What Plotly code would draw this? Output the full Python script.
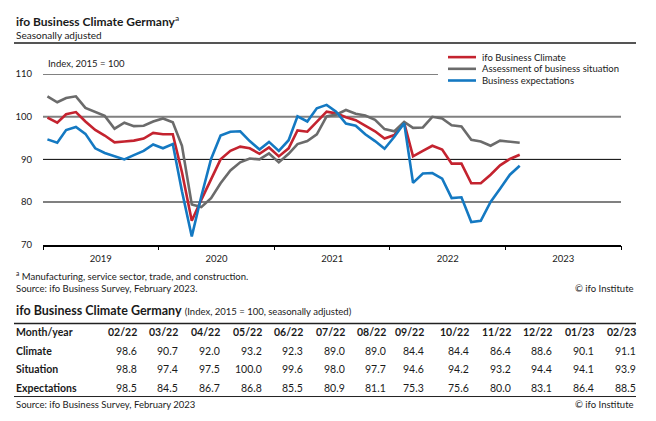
import pandas as pd
import plotly.graph_objects as go

# ifo Business Climate Germany, index 2015 = 100, seasonally adjusted
# values Jan 2019 - Jan 2022, Feb 2022 - Feb 2023 from the table
climate_hist = [99.8, 98.6, 100.6, 101.1, 98.9, 96.9, 95.6, 94.0, 94.2, 94.4, 94.9, 96.2,
                95.9, 95.9, 87.0, 75.6, 80.5, 85.5, 90.0, 92.0, 93.0, 92.6, 91.3, 92.8,
                90.7, 92.6, 96.8, 96.5, 98.7, 101.2, 100.8, 99.9, 99.2, 97.9, 96.6, 94.9,
                95.7]
situation_hist = [104.8, 103.4, 104.4, 104.8, 102.1, 101.2, 100.2, 97.2, 98.6, 97.8, 97.9, 98.9,
                  99.6, 98.7, 93.2, 79.4, 78.8, 80.9, 84.4, 87.4, 89.3, 90.2, 90.0, 91.4,
                  89.3, 91.3, 93.6, 94.3, 95.9, 100.1, 100.5, 101.6, 100.7, 100.3, 99.3, 97.1,
                  96.6]
expect_hist = [94.7, 93.9, 96.9, 97.6, 96.0, 92.6, 91.5, 90.7, 90.0, 91.0, 92.0, 93.5,
               92.6, 93.6, 82.5, 71.9, 81.3, 90.1, 95.6, 96.5, 96.6, 94.3, 92.3, 94.1,
               92.0, 94.5, 100.1, 98.9, 102.0, 102.8, 101.2, 98.4, 97.9, 95.9, 94.3, 92.5,
               95.3]

table_months = ["02/22", "03/22", "04/22", "05/22", "06/22", "07/22", "08/22",
                "09/22", "10/22", "11/22", "12/22", "01/23", "02/23"]
climate_tab = [98.6, 90.7, 92.0, 93.2, 92.3, 89.0, 89.0, 84.4, 84.4, 86.4, 88.6, 90.1, 91.1]
situation_tab = [98.8, 97.4, 97.5, 100.0, 99.6, 98.0, 97.7, 94.6, 94.2, 93.2, 94.4, 94.1, 93.9]
expect_tab = [98.5, 84.5, 86.7, 86.8, 85.5, 80.9, 81.1, 75.3, 75.6, 80.0, 83.1, 86.4, 88.5]

series_names = ["ifo Business Climate", "Assessment of business situation", "Business expectations"]
row_labels = ["Climate", "Situation", "Expectations"]
y_ticks = [70, 80, 90, 100, 110]

climate = climate_hist + climate_tab
situation = situation_hist + situation_tab
expect = expect_hist + expect_tab
months = pd.date_range("2019-01-01", periods=len(climate), freq="MS") + pd.Timedelta(days=14)

W, H = 656, 421
FONT = "Lato"
INK = "#1a1a1a"
RED, GREY, BLUE = "#c4232f", "#6b6b6b", "#1479c2"


def fx(px):
    return px / W


def fy(py):
    return 1 - py / H


fig = go.Figure()
for name, vals, col in zip(series_names, [climate, situation, expect], [RED, GREY, BLUE]):
    fig.add_trace(go.Scatter(x=months, y=vals, name=name, mode="lines",
                             line=dict(color=col, width=2.6), showlegend=False))

shapes = [
    dict(type="line", xref="paper", yref="paper", x0=fx(14), x1=fx(636), y0=fy(38), y1=fy(38),
         line=dict(color="#555555", width=2)),
    dict(type="line", xref="paper", yref="y", x0=fx(43), x1=fx(438), y0=110, y1=110,
         line=dict(color="black", width=1), layer="below"),
    dict(type="line", xref="paper", yref="y", x0=fx(43), x1=fx(621), y0=100, y1=100,
         line=dict(color="#808080", width=2), layer="below"),
    dict(type="line", xref="paper", yref="y", x0=fx(43), x1=fx(621), y0=90, y1=90,
         line=dict(color="black", width=1), layer="below"),
    dict(type="line", xref="paper", yref="y", x0=fx(43), x1=fx(621), y0=80, y1=80,
         line=dict(color="#808080", width=2), layer="below"),
    dict(type="line", xref="paper", yref="paper", x0=fx(14), x1=fx(636), y0=fy(326), y1=fy(326),
         line=dict(color="#222222", width=1.5)),
    dict(type="line", xref="paper", yref="paper", x0=fx(14), x1=fx(636), y0=fy(401), y1=fy(401),
         line=dict(color="#222222", width=1)),
]

annotations = [
    dict(text="<b>ifo Business Climate Germany</b><sup>a</sup>", x=fx(14), y=fy(15),
         font=dict(size=12, color=INK)),
    dict(text="Seasonally adjusted", x=fx(14), y=fy(29.5), font=dict(size=10, color=INK)),
    dict(text="Index, 2015 = 100", x=fx(46), y=fy(59.5), font=dict(size=9.5, color=INK)),
    dict(text="<sup>a</sup> Manufacturing, service sector, trade, and construction.",
         x=fx(14), y=fy(277), font=dict(size=9.5, color=INK)),
    dict(text="Source: ifo Business Survey, February 2023.", x=fx(14), y=fy(290.5),
         font=dict(size=9.5, color=INK)),
    dict(text="© ifo Institute", x=fx(636), y=fy(290.5), xanchor="right",
         font=dict(size=9.5, color=INK)),
    dict(text="<b>ifo Business Climate Germany</b> <span style='font-size:9.5px'>(Index, 2015 = 100, seasonally adjusted)</span>",
         x=fx(14), y=fy(313), font=dict(size=12.5, color=INK)),
    dict(text="Source: ifo Business Survey, February 2023", x=fx(14), y=fy(409.5),
         font=dict(size=9.5, color=INK)),
    dict(text="© ifo Institute", x=fx(636), y=fy(409.5), xanchor="right",
         font=dict(size=9.5, color=INK)),
]

# legend drawn by hand to match the tight spacing
for k, (name, col) in enumerate(zip(series_names, [RED, GREY, BLUE])):
    yy = 52.5 + 12 * k
    shapes.append(dict(type="line", xref="paper", yref="paper", x0=fx(448), x1=fx(476),
                       y0=fy(yy), y1=fy(yy), line=dict(color=col, width=2.6)))
    annotations.append(dict(text=name, x=fx(480), y=fy(yy), font=dict(size=9.5, color=INK)))

# table below the chart, set as text cells
col_right = [138.7, 180.3, 222, 263.5, 305, 346.7, 388, 426, 471, 512.7, 554, 596, 637.7]
row_y = [335, 354, 373, 392]
annotations.append(dict(text="<b>Month/year</b>", x=fx(14), y=fy(row_y[0]),
                        font=dict(size=10.5, color=INK)))
for r, lab in enumerate(row_labels):
    annotations.append(dict(text=f"<b>{lab}</b>", x=fx(14), y=fy(row_y[r + 1]),
                            font=dict(size=10.5, color=INK)))
for c, m in enumerate(table_months):
    annotations.append(dict(text=f"<b>{m}</b>", x=fx(col_right[c]), y=fy(row_y[0]),
                            xanchor="right", font=dict(size=10.5, color=INK)))
    for r, vals in enumerate([climate_tab, situation_tab, expect_tab]):
        annotations.append(dict(text=f"{vals[c]:.1f}", x=fx(col_right[c]), y=fy(row_y[r + 1]),
                                xanchor="right", font=dict(size=10.5, color=INK)))

for a in annotations:
    a.update(xref="paper", yref="paper", showarrow=False, yanchor="middle",
             xanchor=a.get("xanchor", "left"))

fig.update_layout(
    width=W, height=H, autosize=False,
    margin=dict(l=0, r=0, t=0, b=0),
    paper_bgcolor="white", plot_bgcolor="white",
    font=dict(family=FONT, color=INK),
    shapes=shapes, annotations=annotations,
    xaxis=dict(domain=[fx(43), fx(621)], type="date",
               range=["2019-01-01", "2024-01-01"], dtick="M12", tick0="2019-01-01",
               tickformat="%Y", ticklabelmode="period", ticks="outside", ticklen=4,
               tickcolor="black", tickwidth=1, showline=True, linecolor="black", linewidth=1.5,
               showgrid=False, zeroline=False, tickfont=dict(size=9.5, color=INK)),
    yaxis=dict(domain=[fy(245), fy(70)], range=[70, 110], tickvals=y_ticks,
               showgrid=False, zeroline=False, showline=False, ticks="",
               ticklabelstandoff=10, tickfont=dict(size=9.5, color=INK)),
)

fig.write_html("out.html", config={"displayModeBar": False},
               post_script="document.body.style.margin='0';")
